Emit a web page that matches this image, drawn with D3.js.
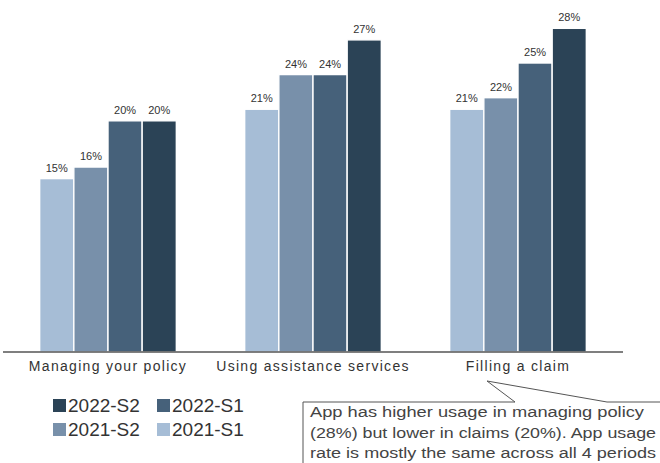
<!DOCTYPE html>
<html>
<head>
<meta charset="utf-8">
<script src="https://cdn.jsdelivr.net/npm/d3@7"></script>
<style>
  body { margin: 0; background: #fff; }
  svg { display: block; font-family: "Liberation Sans", Arial, sans-serif; }
</style>
</head>
<body>
<div id="chart"></div>
<script>
// chart data
var categories = ["Managing your policy", "Using assistance services", "Filling a claim"];
var seriesNames = ["2021-S1", "2021-S2", "2022-S1", "2022-S2"];
var values2021S1 = [15, 21, 21];
var values2021S2 = [16, 24, 22];
var values2022S1 = [20, 24, 25];
var values2022S2 = [20, 27, 28];
var legendOrder = ["2022-S2", "2022-S1", "2021-S2", "2021-S1"];
var noteLines = [
  "App has higher usage in managing policy",
  "(28%) but lower in claims (20%). App usage",
  "rate is mostly the same across all 4 periods"
];

let width = 660, height = 463;
let colors = { "2021-S1": "#a6bdd6", "2021-S2": "#7890aa", "2022-S1": "#46617a", "2022-S2": "#2b4356" };
let seriesValues = { "2021-S1": values2021S1, "2021-S2": values2021S2, "2022-S1": values2022S1, "2022-S2": values2022S2 };
// drawn widths of the note lines (the original text is stretched)
let noteWidths = [334, 346, 346];

let svg = d3.select('#chart').append('svg')
  .attr('width', width)
  .attr('height', height);

/** scales */
let x0 = d3.scaleBand().domain(categories).range([5.5, 620.5]);
let x1 = d3.scaleBand().domain(seriesNames).range([0, x0.bandwidth()]).paddingOuter(1.0);
let y = d3.scaleLinear().domain([0, 30]).range([352, 5.2]);

/** bars */
let groups = svg.selectAll('.group')
  .data(categories)
  .enter().append('g')
  .attr('class', 'group')
  .attr('transform', d => `translate(${x0(d)},0)`);

groups.selectAll('rect')
  .data((c, i) => seriesNames.map(s => ({ s: s, v: seriesValues[s][i] })))
  .enter().append('rect')
  .attr('x', d => x1(d.s))
  .attr('width', x1.bandwidth())
  .attr('y', d => y(d.v))
  .attr('height', d => y(0) - y(d.v))
  .attr('fill', d => colors[d.s])
  .attr('stroke', '#fff')
  .attr('stroke-width', 1.4);

groups.selectAll('.val')
  .data((c, i) => seriesNames.map(s => ({ s: s, v: seriesValues[s][i] })))
  .enter().append('text')
  .attr('class', 'val')
  .attr('x', d => x1(d.s) + x1.bandwidth() / 2)
  .attr('y', d => y(d.v) - 7)
  .attr('text-anchor', 'middle')
  .attr('font-size', 11)
  .attr('fill', '#333')
  .text(d => d.v + '%');

/** x axis */
let xAxis = svg.append('g')
  .attr('transform', `translate(0,${y(0)})`)
  .call(d3.axisBottom(x0).tickSize(0).tickPadding(9));
xAxis.select('.domain').attr('stroke', '#555').attr('stroke-width', 1.6)
  .attr('d', 'M3,0H623');
xAxis.selectAll('text')
  .attr('font-size', 14)
  .attr('font-family', '"Liberation Sans", Arial, sans-serif')
  .attr('letter-spacing', 1.3)
  .attr('fill', '#333');

/** legend */
let legend = svg.append('g').selectAll('g')
  .data(legendOrder)
  .enter().append('g')
  .attr('transform', (d, i) => `translate(${53 + (i % 2) * 104},${399 + Math.floor(i / 2) * 24})`);
legend.append('rect').attr('width', 13).attr('height', 13).attr('fill', d => colors[d]);
legend.append('text')
  .attr('x', 15).attr('y', 13)
  .attr('font-size', 19)
  .attr('fill', '#333')
  .text(d => d);

/** callout */
svg.append('path')
  .attr('d', 'M303,470V402H515L487,381L607,402H670')
  .attr('fill', '#fff')
  .attr('stroke', '#555')
  .attr('stroke-width', 1);
svg.append('g')
  .selectAll('text')
  .data(noteLines)
  .enter().append('text')
  .attr('x', 310)
  .attr('y', (d, i) => 417 + i * 20.5)
  .attr('font-size', 15.5)
  .attr('textLength', (d, i) => noteWidths[i])
  .attr('lengthAdjust', 'spacingAndGlyphs')
  .attr('fill', '#444')
  .text(d => d);
</script>
</body>
</html>
